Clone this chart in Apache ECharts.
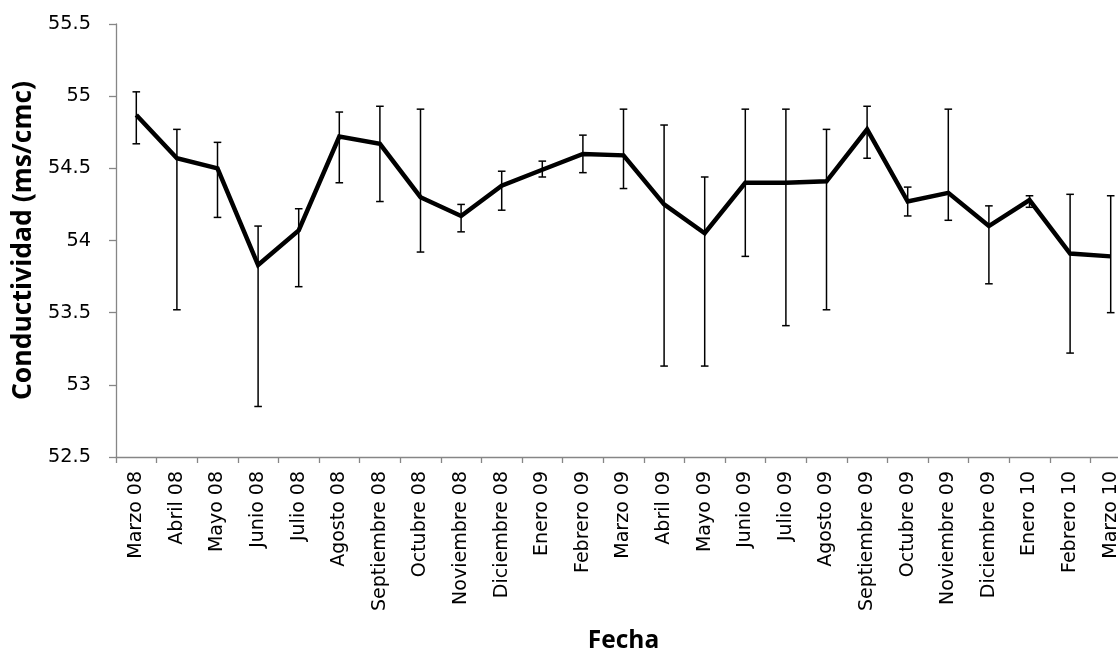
<!DOCTYPE html>
<html>
<head>
<meta charset="utf-8">
<title>Conductividad</title>
<script src="https://cdn.jsdelivr.net/npm/echarts@6/dist/echarts.min.js"></script>
<style>
  html, body { margin: 0; padding: 0; background: #fff; }
  #chart { width: 1118px; height: 651px; }
</style>
</head>
<body>
<div id="chart"></div>
<script>
// Monthly sampling dates
const fechas = [
  'Marzo 08', 'Abril 08', 'Mayo 08', 'Junio 08', 'Julio 08', 'Agosto 08',
  'Septiembre 08', 'Octubre 08', 'Noviembre 08', 'Diciembre 08', 'Enero 09',
  'Febrero 09', 'Marzo 09', 'Abril 09', 'Mayo 09', 'Junio 09', 'Julio 09',
  'Agosto 09', 'Septiembre 09', 'Octubre 09', 'Noviembre 09', 'Diciembre 09',
  'Enero 10', 'Febrero 10', 'Marzo 10'
];

// Mean conductivity (ms/cmc)
const conductividad = [
  54.87, 54.57, 54.50, 53.83, 54.07, 54.72, 54.67, 54.30, 54.17, 54.38,
  54.49, 54.60, 54.59, 54.25, 54.05, 54.40, 54.40, 54.41, 54.77, 54.27,
  54.33, 54.10, 54.28, 53.91, 53.89
];

// Lower and upper ends of the error bars
const errorInferior = [
  54.67, 53.52, 54.16, 52.85, 53.68, 54.40, 54.27, 53.92, 54.06, 54.21,
  54.44, 54.47, 54.36, 53.13, 53.13, 53.89, 53.41, 53.52, 54.57, 54.17,
  54.14, 53.70, 54.23, 53.22, 53.50
];
const errorSuperior = [
  55.03, 54.77, 54.68, 54.10, 54.22, 54.89, 54.93, 54.91, 54.25, 54.48,
  54.55, 54.73, 54.91, 54.80, 54.44, 54.91, 54.91, 54.77, 54.93, 54.37,
  54.91, 54.24, 54.31, 54.32, 54.31
];

// Y axis range and step
const yMin = 52.5, yMax = 55.5, yStep = 0.5;

const LABEL_FONT = 'DejaVu Sans';
const TITLE_FONT = 'Open Sans';
const AXIS_GREY = '#868686';

const chart = echarts.init(document.getElementById('chart'), null, { renderer: 'canvas' });

const errorData = fechas.map((f, i) => [i, errorInferior[i], errorSuperior[i]]);

chart.setOption({
  animation: false,
  backgroundColor: '#ffffff',
  grid: {
    left: 116, top: 24, width: 1015, height: 433,
    containLabel: false,
    outerBoundsMode: 'none'
  },
  xAxis: {
    type: 'category',
    data: fechas,
    boundaryGap: true,
    name: 'Fecha',
    nameLocation: 'middle',
    nameGap: 172,
    nameTextStyle: { fontFamily: TITLE_FONT, fontSize: 24.5, fontWeight: 'bold', color: '#000' },
    axisLine: { show: true, lineStyle: { color: AXIS_GREY, width: 1.3 } },
    axisTick: { show: true, length: 6, lineStyle: { color: AXIS_GREY, width: 1.3 } },
    axisLabel: {
      interval: 0, rotate: 90, margin: 14,
      fontFamily: LABEL_FONT, fontSize: 19, color: '#000'
    },
    splitLine: { show: false }
  },
  yAxis: {
    type: 'value',
    min: yMin, max: yMax, interval: yStep,
    name: 'Conductividad (ms/cmc)',
    nameLocation: 'middle',
    nameGap: 78,
    nameTextStyle: { fontFamily: TITLE_FONT, fontSize: 26.5, fontWeight: 'bold', color: '#000' },
    axisLine: { show: true, lineStyle: { color: AXIS_GREY, width: 1.3 } },
    axisTick: { show: true, length: 7, lineStyle: { color: AXIS_GREY, width: 1.3 } },
    axisLabel: {
      margin: 25, fontFamily: LABEL_FONT, fontSize: 19.3, color: '#000',
      formatter: v => String(Math.round(v * 10) / 10)
    },
    splitLine: { show: false }
  },
  series: [
    {
      type: 'custom',
      name: 'error',
      data: errorData,
      z: 2,
      renderItem: function (params, api) {
        const i = api.value(0);
        const lo = api.coord([i, api.value(1)]);
        const hi = api.coord([i, api.value(2)]);
        const hw = 3.8;
        const style = { stroke: '#000', lineWidth: 1.5, fill: null };
        return {
          type: 'group',
          children: [
            { type: 'line', shape: { x1: hi[0], y1: hi[1], x2: lo[0], y2: lo[1] }, style: style },
            { type: 'line', shape: { x1: hi[0] - hw, y1: hi[1], x2: hi[0] + hw, y2: hi[1] }, style: style },
            { type: 'line', shape: { x1: lo[0] - hw, y1: lo[1], x2: lo[0] + hw, y2: lo[1] }, style: style }
          ]
        };
      }
    },
    {
      type: 'line',
      name: 'Conductividad',
      data: conductividad,
      z: 3,
      showSymbol: false,
      symbol: 'none',
      lineStyle: { color: '#000', width: 4.5, join: 'miter' },
      itemStyle: { color: '#000' }
    }
  ]
});
</script>
</body>
</html>
